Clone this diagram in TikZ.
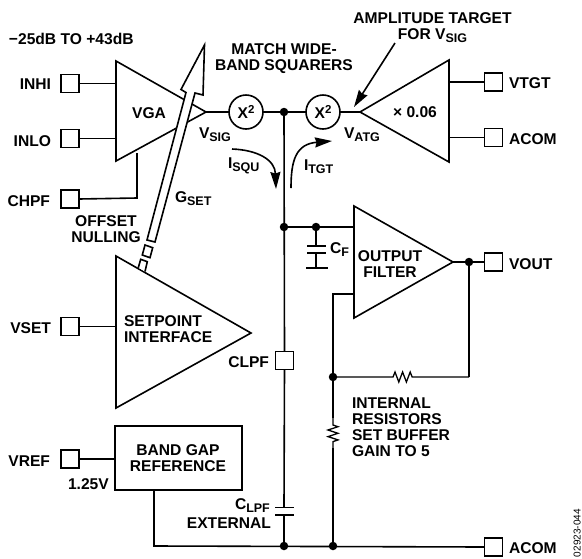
\documentclass[tikz,border=0pt]{standalone}
\usepackage{fontspec}
\setmainfont{Liberation Sans}
\usetikzlibrary{arrows.meta}
\newcommand{\subtx}[1]{\raisebox{-3.6pt}{\fontsize{12.5}{12.5}\selectfont #1}}
\newcommand{\suptx}[1]{\raisebox{4.4pt}{\fontsize{11.5}{11.5}\selectfont #1}}
\tikzset{
  x=1pt,y=-1pt,
  wire/.style={line width=1.6pt,line join=miter,line cap=butt},
  shapeline/.style={wire,fill=white},
  pin/.style={draw,fill=white,line width=1.6pt,minimum size=18pt,inner sep=0pt,outer sep=0pt},
  sq/.style={draw,fill=white,circle,line width=1.6pt,minimum size=34pt,inner sep=0pt,outer sep=0pt},
  dot/.style={circle,fill=black,minimum size=8.5pt,inner sep=0pt,outer sep=0pt},
  lab/.style={inner sep=0pt,outer sep=0pt,font=\fontsize{15.6}{15.7}\selectfont\bfseries},
  big/.style={-{Stealth[length=17pt,width=10pt,inset=1.5pt]},line width=1.6pt},
}
\begin{document}
\begin{tikzpicture}
\useasboundingbox (0,0) rectangle (582,558);

% named points
\coordinate (vgaT) at (116,61); \coordinate (vgaB) at (116,161); \coordinate (vgaA) at (206,112);
\coordinate (ampT) at (449,60); \coordinate (ampB) at (449,162); \coordinate (ampA) at (360,112);
\coordinate (filT) at (354,206); \coordinate (filB) at (354,318); \coordinate (filA) at (453,262);
\coordinate (setT) at (116,256); \coordinate (setB) at (116,408); \coordinate (setA) at (251,333);
\coordinate (fbIn) at (354,294); \coordinate (fbTop) at (333,294);
\coordinate (hpfUp) at (137,153); \coordinate (hpfCorner) at (137,198);
\coordinate (gateDrop) at (154,546); \coordinate (fbRight) at (469,377);

% pins
\node[pin] (INHI) at (70,83.5) {};
\node[pin] (INLO) at (70,138.5) {};
\node[pin] (CHPF) at (70,199) {};
\node[pin] (VSET) at (70,326.5) {};
\node[pin] (VREF) at (70,459) {};
\node[pin] (VTGT) at (493.5,82) {};
\node[pin] (ACOMa) at (493.5,137.5) {};
\node[pin] (VOUT) at (493.5,262) {};
\node[pin] (ACOMb) at (493.5,547) {};
\node[pin] (CLPF) at (284.5,360.5) {};

% band gap
\node[draw,line width=1.6pt,fill=white,minimum width=127pt,minimum height=64pt,inner sep=0pt,outer sep=0pt] (BG) at (178.5,458) {};

% junctions
\coordinate (j1) at (284,112);
\coordinate (j2) at (284,227);
\coordinate (j3) at (316,227);
\coordinate (j4) at (469,262);
\coordinate (j5) at (333,377);
\coordinate (j6) at (284,546);
\coordinate (j7) at (333,546);

% squarers
\node[sq] (sqa) at (246,112) {};
\node[sq] (sqb) at (323,112) {};

% wires
\draw[wire] (INHI.east) -- (116,83.5);
\draw[wire] (INLO.east) -- (116,138.5);
\draw[wire] (CHPF.east) -- (hpfCorner) -- (hpfUp);
\draw[wire] (VSET.east) -- (116,326.5);
\draw[wire] (VREF.east) -- (BG.west |- VREF.east);
\draw[wire] (VTGT.west) -- (449,82);
\draw[wire] (ACOMa.west) -- (449,137.5);
\draw[wire] (vgaA) -- (sqa);
\draw[wire] (sqa) -- (j1) -- (sqb);
\draw[wire] (sqb) -- (ampA);
\draw[wire] (j1) -- (CLPF.north);
\draw[wire] (j2) -- (j3) -- (354,227);
\draw[wire] (filA) -- (VOUT.west);
\draw[wire] (j4) -- (fbRight);
\draw[wire] (fbIn) -- (fbTop) -- (333,418);
\draw[wire] (333,448) -- (j7);
\draw[wire,line width=1.3pt] (333,418) -- (333,425) -- ++(5,1.7) -- ++(-10,3.3) -- ++(10,3.3) -- ++(-10,3.3) -- ++(10,3.3) -- ++(-5,1.7) -- (333,448);
\draw[wire,line width=1.3pt] (j5) -- (393,377) -- ++(2,-5) -- ++(3.8,10) -- ++(3.8,-10) -- ++(3.8,10) -- ++(3.8,-10) -- ++(2,5) -- (fbRight);
\draw[wire] (BG.south -| gateDrop) -- (gateDrop) -- (ACOMb.west);
\draw[wire] (CLPF.south) -- (284,507.5);
\draw[wire] (284,515) -- (j6);
\draw[wire] (275,507.5) -- (294,507.5);
\draw[wire] (275,515) -- (294,515);
\draw[wire] (j3) -- (316,246);
\draw[wire] (307,246) -- (326,246);
\draw[wire] (307,253) -- (326,253);
\draw[wire] (316,253) -- (316,268);
\draw[wire] (306,268) -- (328,268);

% triangles
\draw[shapeline] (vgaT) -- (vgaA) -- (vgaB) -- cycle;
\draw[shapeline] (ampT) -- (ampA) -- (ampB) -- cycle;
\draw[shapeline] (filT) -- (filA) -- (filB) -- cycle;
\draw[shapeline] (setT) -- (setA) -- (setB) -- cycle;

% hollow gain arrow
\draw[shapeline] (204.5,45) -- (203,95) -- (195,93) -- (155,242) -- (147,240) -- (186,92.5) -- (181,89.5) -- cycle;
\draw[shapeline] (145,245) -- (152.7,247.7) -- (150,257.7) -- (142.3,255) -- cycle;
\draw[wire,fill=white] (138.3,267.7) -- (140.7,259.3) -- (147.3,261.7) -- (145,271.5);

% dots
\foreach \j in {j1,j2,j3,j4,j5,j6,j7} \node[dot] at (\j) {};

% arrows
\coordinate (atFrom) at (395,43); \coordinate (atTo) at (354,107);
\draw[big] (atFrom) -- (atTo);
\coordinate (isqFrom) at (232,149); \coordinate (isqTo) at (276,189);
\draw[big] (isqFrom) .. controls (258,150) and (275,160) .. (isqTo);
\coordinate (itgFrom) at (291,188); \coordinate (itgTo) at (332,141);
\draw[big] (itgFrom) .. controls (291,160) and (296,144) .. (itgTo);

% labels
\node[lab,anchor=base] (lsqa) at (246,118) {X\suptx{2}};
\node[lab,anchor=base] (lsqb) at (323,118) {X\suptx{2}};
\node[lab,anchor=base west] at (9,44) {−25dB TO +43dB};
\node[lab,anchor=base,align=center] at (284,70) {MATCH WIDE-\\BAND SQUARERS};
\node[lab,anchor=base,align=center] at (432.5,39) {AMPLITUDE TARGET\\FOR V\subtx{SIG}};
\node[lab,anchor=base] at (149,118) {VGA};
\node[lab,anchor=base west] at (199,138) {V\subtx{SIG}};
\node[lab,anchor=base west] at (344,138) {V\subtx{ATG}};
\node[lab,anchor=base west] at (228,168) {I\subtx{SQU}};
\node[lab,anchor=base west] at (304,170) {I\subtx{TGT}};
\node[lab,anchor=base] at (415,117) {× 0.06};
\node[lab,anchor=base east] at (51,89) {INHI};
\node[lab,anchor=base east] at (51,146) {INLO};
\node[lab,anchor=base east] at (50,206) {CHPF};
\node[lab,anchor=base east] at (51,333) {VSET};
\node[lab,anchor=base east] at (50,466) {VREF};
\node[lab,anchor=base west] at (509,88) {VTGT};
\node[lab,anchor=base west] at (509,144) {ACOM};
\node[lab,anchor=base west] at (509,269) {VOUT};
\node[lab,anchor=base west] at (509,553) {ACOM};
\node[lab,anchor=base,align=center] at (106,242) {OFFSET\\NULLING};
\node[lab,anchor=base west] at (175,202) {G\subtx{SET}};
\node[lab,anchor=base west] at (330,253) {C\subtx{F}};
\node[lab,anchor=base,align=center] at (390,277) {OUTPUT\\FILTER};
\node[lab,anchor=base west,align=left] at (124,342) {SETPOINT\\INTERFACE};
\node[lab,anchor=base east] at (269,367) {CLPF};
\node[lab,anchor=base west] at (68,489) {1.25V};
\node[lab,anchor=base,align=center] at (178,471) {BAND GAP\\REFERENCE};
\node[lab,anchor=base west] at (235,509) {C\subtx{LPF}};
\node[lab,anchor=base east] at (271,528) {EXTERNAL};
\node[lab,anchor=base west,align=left] at (352,456) {INTERNAL\\RESISTORS\\SET BUFFER\\GAIN TO 5};
\node[inner sep=0pt,outer sep=0pt,rotate=90,anchor=base west,font=\fontsize{10}{10}\selectfont] at (580.5,557) {02923-044};
\end{tikzpicture}
\end{document}
